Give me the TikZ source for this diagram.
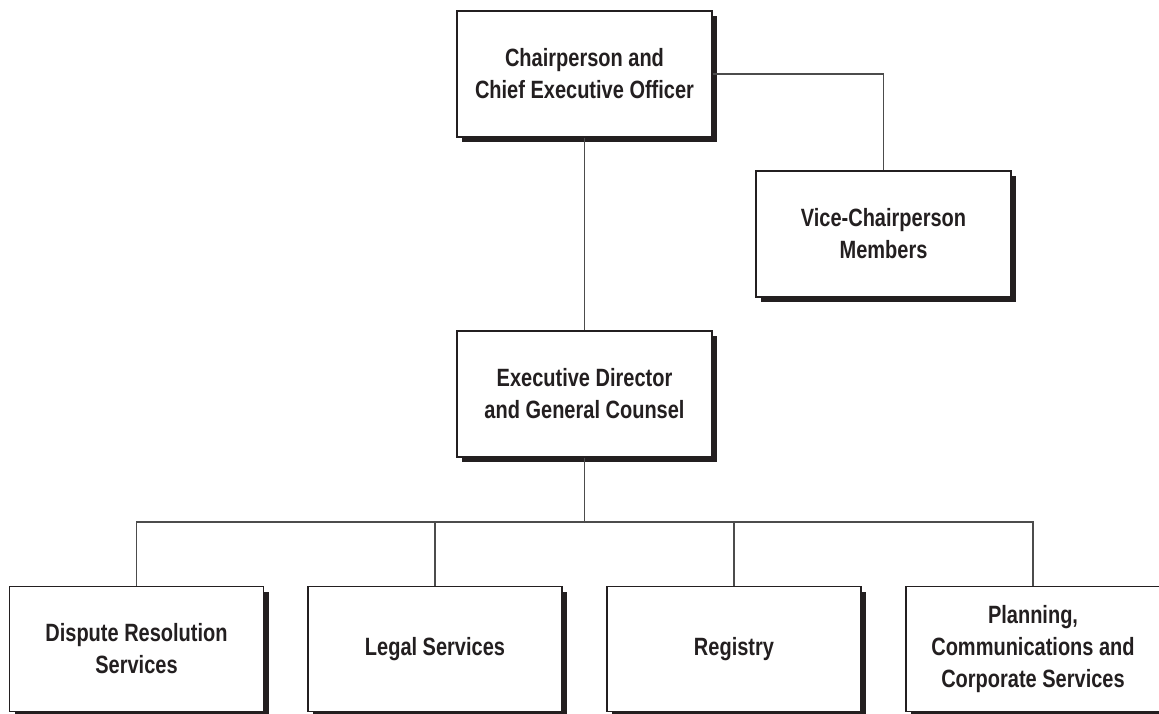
\documentclass[tikz,border=0pt]{standalone}
\usepackage{fontspec}
\setmainfont{Liberation Sans}[FakeStretch=0.8]
\usepackage{xcolor}
\usepackage{tikz}
\usetikzlibrary{shadows}
\usetikzlibrary{positioning}
\definecolor{inkblack}{HTML}{231F20}
\tikzset{
    orgbox/.style = {rectangle, draw=inkblack, line width=1.2pt, fill=white, align=center, text=inkblack, inner sep=0pt, minimum width=255pt, minimum height=126pt, font=\fontsize{25}{32}\selectfont\bfseries, drop shadow={shadow xshift=5pt, shadow yshift=-5pt, fill=inkblack, opacity=1}},
    orgboxb/.style = {orgbox, minimum width=254pt, minimum height=125pt},
    link/.style = {-, line width=1.3pt, draw=black!70},
}

\begin{document}
\begin{tikzpicture}[x=1pt, y=-1pt]
\useasboundingbox (0,0) rectangle (1159,713);
\node[orgbox] at (584.5,74) (chair) {Chairperson and\\Chief Executive Officer};
\node[orgbox] at (883.5,234) (vice) {Vice-Chairperson\\Members};
\node[orgbox] at (584.5,394) (exec) {Executive Director\\and General Counsel};
%
\node[orgboxb] at (136.5,649) (dispute) {Dispute Resolution\\Services};
\node[orgboxb] at (435,649) (legal) {Legal Services};
\node[orgboxb] at (734,649) (registry) {Registry};
\node[orgboxb] at (1033,649) (planning) {Planning,\\Communications and\\Corporate Services};
\coordinate (bus) at (584.5,522);
%
\draw[link] (chair) -- (exec);
\draw[link] (chair.east) -| (vice.north);
\draw[link] (exec) -- (bus);
%
\draw[link] (dispute.north) |- (bus) -| (planning.north);
\draw[link] (legal.north) -- (legal.north |- bus);
\draw[link] (registry.north) -- (registry.north |- bus);
\end{tikzpicture}
\end{document}
